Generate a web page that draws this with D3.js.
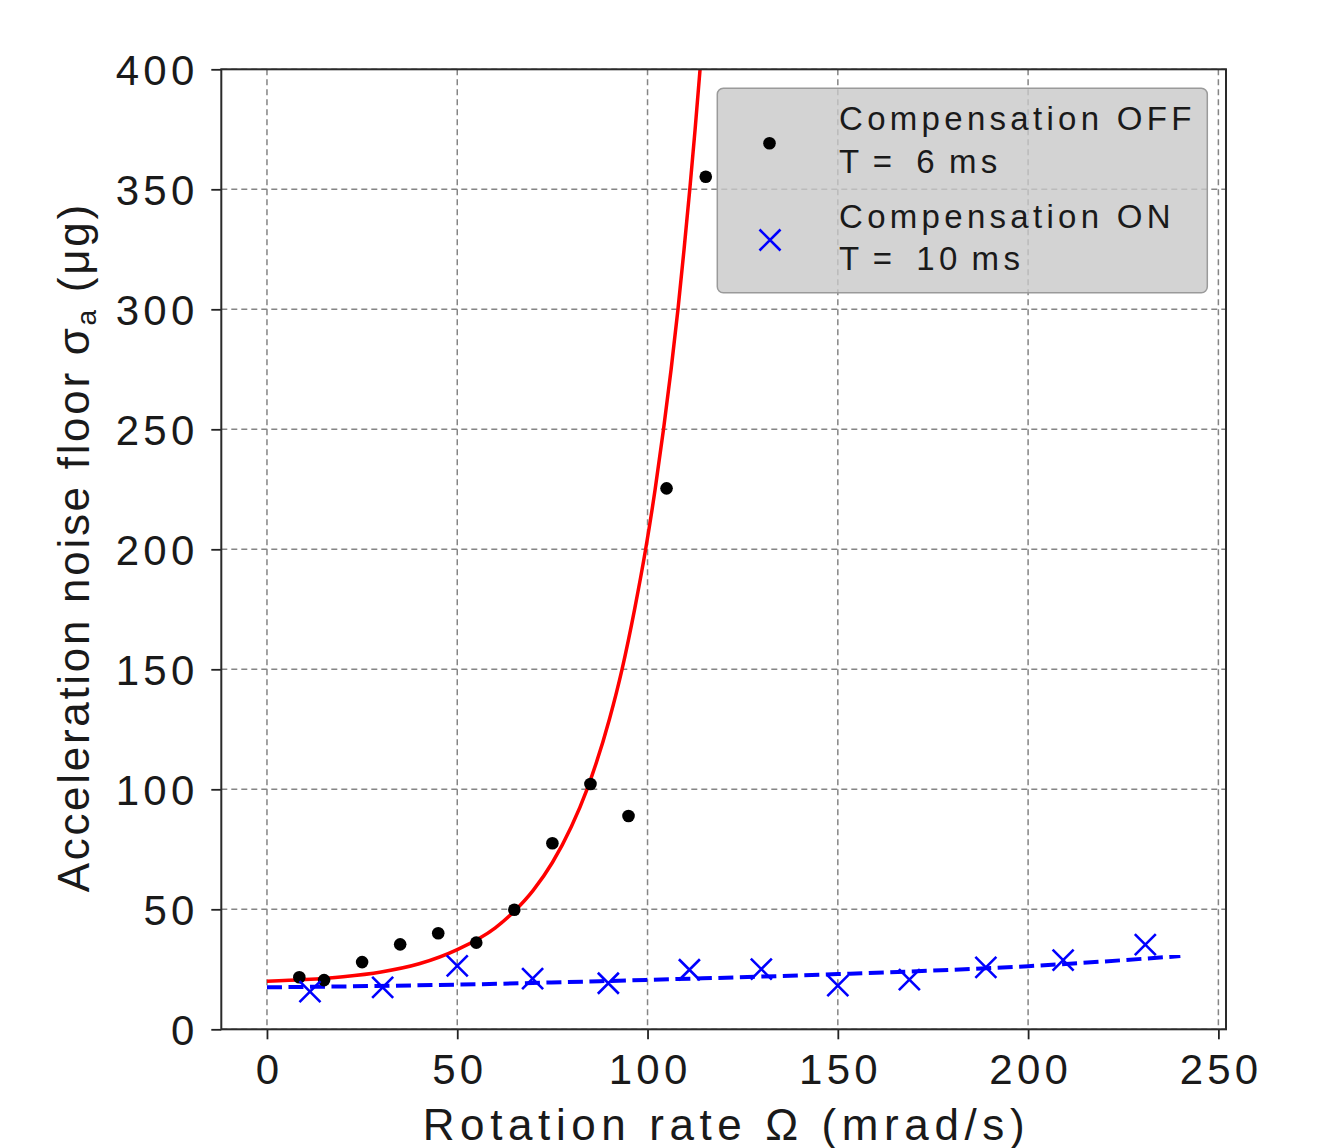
<!DOCTYPE html>
<html>
<head>
<meta charset="utf-8">
<script src="https://cdn.jsdelivr.net/npm/d3@7"></script>
<style>
  html, body { margin: 0; padding: 0; background: #ffffff; }
  svg { display: block; }
  text { font-family: "Liberation Sans", Arial, sans-serif; fill: #1a1a1a; }
</style>
</head>
<body>
<svg id="chart" width="1318" height="1148"></svg>
<script>
// ---------- data ----------
const xTicks = [0, 50, 100, 150, 200, 250];
const yTicks = [0, 50, 100, 150, 200, 250, 300, 350, 400];

// Compensation OFF (T = 6 ms) measured points
const offRate  = [8.5, 15, 25, 35, 45, 55, 65, 75, 85, 95, 105, 115.3];
const offNoise = [21.7, 20.5, 28, 35.4, 40, 36.1, 49.8, 77.5, 102.2, 88.9, 225.4, 355.2];

// Compensation ON (T = 10 ms) measured points
const onRate  = [11.3, 30.4, 50, 69.8, 89.7, 111, 129.9, 150, 168.8, 188.9, 209.2, 230.8];
const onNoise = [15.7, 17.5, 26.4, 21.1, 19.2, 24.8, 25.1, 18.2, 20.7, 25.8, 28.8, 35.3];

// fit curves
const offFitRate  = [0, 10, 20, 30, 40, 50, 60, 65, 70, 75, 80, 84.1, 90, 93.3, 96.6, 99.5, 102.0, 104.2, 106.2, 108.0, 109.6, 111.1, 112.5, 113.8];
const offFitNoise = [20.0, 20.7, 21.9, 23.9, 27.3, 33.2, 42.3, 49.2, 58, 69.5, 84.5, 100, 129.3, 150, 175, 200, 225, 250, 275, 300, 325, 350, 375, 400];
const onFitRate  = [0, 50, 100, 150, 200, 240];
const onFitNoise = [17.5, 18.6, 20.6, 23.0, 26.3, 30.5];

const legendLabels = [["Compensation OFF", "T =  6 ms"], ["Compensation ON", "T =  10 ms"]];

// ---------- layout ----------
const svg = d3.select("#chart");
const x = d3.scaleLinear().domain([-12, 252]).range([221.3, 1226]);
const y = d3.scaleLinear().domain([0, 400]).range([1029.3, 69.3]);
const [x0, x1] = x.range();
const [yb, yt] = y.range();

svg.append("defs").append("clipPath").attr("id", "plotclip")
  .append("rect").attr("x", x0).attr("y", yt).attr("width", x1 - x0).attr("height", yb - yt);

// grid
const grid = svg.append("g");
grid.selectAll("line.gx").data(xTicks).join("line")
  .attr("x1", d => x(d)).attr("x2", d => x(d)).attr("y1", yt).attr("y2", yb)
  .attr("stroke", "#858585").attr("stroke-width", 1.5).attr("stroke-dasharray", "6,4");
grid.selectAll("line.gy").data(yTicks).join("line")
  .attr("x1", x0).attr("x2", x1).attr("y1", d => y(d)).attr("y2", d => y(d))
  .attr("stroke", "#858585").attr("stroke-width", 1.5).attr("stroke-dasharray", "6,4");

// axes (ticks + labels)
const LS = 4.2;
const xAxis = svg.append("g").attr("transform", `translate(0,${yb})`)
  .call(d3.axisBottom(x).tickValues(xTicks).tickSize(10).tickPadding(14).tickFormat(d3.format("d")));
const yAxis = svg.append("g").attr("transform", `translate(${x0},0)`)
  .call(d3.axisLeft(y).tickValues(yTicks).tickSize(10).tickPadding(17).tickFormat(d3.format("d")));
[xAxis, yAxis].forEach(a => {
  a.select(".domain").remove();
  a.selectAll(".tick line").attr("stroke", "#222").attr("stroke-width", 1.8);
  a.selectAll(".tick text").attr("font-size", 42).attr("fill", "#1a1a1a")
    .style("font-family", '"Liberation Sans", Arial, sans-serif')
    .style("letter-spacing", LS + "px");
});
xAxis.selectAll(".tick text").attr("dx", LS / 2).attr("dy", "0.72em");
yAxis.selectAll(".tick text").attr("dx", LS).attr("dy", "0.36em");

// fit lines
const lineGen = d3.line().x(d => x(d[0])).y(d => y(d[1])).curve(d3.curveMonotoneX);
const plot = svg.append("g").attr("clip-path", "url(#plotclip)");
plot.append("path").datum(onFitRate.map((r, i) => [r, onFitNoise[i]]))
  .attr("d", lineGen).attr("fill", "none").attr("stroke", "#0000ff")
  .attr("stroke-width", 4).attr("stroke-dasharray", "15,6.5");
plot.append("path").datum(offFitRate.map((r, i) => [r, offFitNoise[i]]))
  .attr("d", lineGen).attr("fill", "none").attr("stroke", "#ff0000").attr("stroke-width", 3.5);

// markers
const crossPath = s => `M${-s},${-s}L${s},${s}M${-s},${s}L${s},${-s}`;
plot.selectAll("circle.off").data(offRate.map((r, i) => [r, offNoise[i]])).join("circle")
  .attr("cx", d => x(d[0])).attr("cy", d => y(d[1])).attr("r", 6.3).attr("fill", "#000");
plot.selectAll("path.on").data(onRate.map((r, i) => [r, onNoise[i]])).join("path")
  .attr("transform", d => `translate(${x(d[0])},${y(d[1])})`)
  .attr("d", crossPath(10.5)).attr("stroke", "#0000ff").attr("stroke-width", 2.6).attr("fill", "none");

// spines
svg.append("rect").attr("x", x0).attr("y", yt).attr("width", x1 - x0).attr("height", yb - yt)
  .attr("fill", "none").attr("stroke", "#2a2a2a").attr("stroke-width", 2);

// axis titles
svg.append("text").attr("x", (x0 + x1) / 2 + 2.8).attr("y", 1140).attr("text-anchor", "middle")
  .attr("font-size", 44).style("letter-spacing", "5.6px").text("Rotation rate Ω (mrad/s)");

const yl = svg.append("text").attr("transform", `translate(89,${(yt + yb) / 2 - 2}) rotate(-90)`)
  .attr("text-anchor", "middle").attr("font-size", 44).style("letter-spacing", "2.7px");
yl.append("tspan").text("Acceleration noise floor σ");
yl.append("tspan").attr("font-size", 28).attr("dy", 7).text("a");
yl.append("tspan").attr("dy", -7).text(" (μg)");

// legend
const lg = svg.append("g");
lg.append("rect").attr("x", 717.3).attr("y", 88.3).attr("width", 490).attr("height", 204.4)
  .attr("rx", 6).attr("fill", "#c8c8c8").attr("fill-opacity", 0.8)
  .attr("stroke", "#9a9a9a").attr("stroke-width", 1.5);
lg.append("circle").attr("cx", 769.5).attr("cy", 143.3).attr("r", 6.3).attr("fill", "#000");
lg.append("path").attr("transform", "translate(770,240)").attr("d", crossPath(10.5))
  .attr("stroke", "#0000ff").attr("stroke-width", 2.6).attr("fill", "none");
const baselines = [[130, 172.7], [227.7, 270]];
legendLabels.forEach((pair, i) => {
  pair.forEach((t, j) => {
    lg.append("text").attr("x", 839).attr("y", baselines[i][j]).attr("font-size", 33)
      .style("letter-spacing", "4.3px").style("word-spacing", j === 1 ? "-3.5px" : "0px")
      .style("white-space", "pre").text(t);
  });
});
</script>
</body>
</html>
